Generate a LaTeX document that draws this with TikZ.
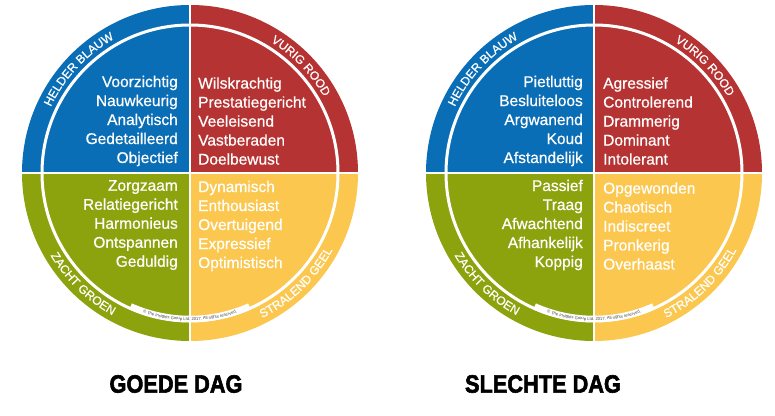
\documentclass[tikz,border=0pt]{standalone}
\usepackage{fontspec}
\setmainfont{Liberation Sans}
\newfontfamily\wielfont[FakeBold=0.6]{Liberation Sans}
\newfontfamily\titelfont[FakeBold=2.5]{Liberation Sans}
\usetikzlibrary{decorations.text}
\definecolor{blauw}{RGB}{10,110,183}
\definecolor{rood}{RGB}{181,51,50}
\definecolor{groen}{RGB}{140,163,14}
\definecolor{geel}{RGB}{251,199,79}
\definecolor{copygrijs}{RGB}{70,70,70}

\begin{document}
\begin{tikzpicture}[x=1pt,y=1pt,
    kwart/.style={font=\wielfont\fontsize{15.5}{19}\selectfont, text=white, inner sep=0pt},
    ringtekst/.style={decorate, decoration={text along path, text align=center,
        text={|\wielfont\fontsize{12}{12}\selectfont\color{white}|#1}}},
    copytekst/.style={decorate, decoration={text along path, text align=center,
        text={|\fontsize{4.2}{4.2}\selectfont\color{copygrijs}|© The Insights Group Ltd. 2017. All rights reserved.}}},
    titel/.style={font=\titelfont\fontsize{25}{25}\selectfont\bfseries, inner sep=0pt}]
    \useasboundingbox (0,0) rectangle (775,415);

    % Goede dag
    \begin{scope}[shift={(190,242)}]
        \coordinate (gm) at (0,0);
        \foreach \kleur/\a in {rood/0, blauw/90, groen/180, geel/270}
            \fill[\kleur] (gm) -- ++(\a:168) arc (\a:\a+90:168) -- cycle;
        \draw[white, line width=3] (gm) circle[radius=148];
        \draw[white, line width=6.5] (gm) ++(246:146) arc (246:294:146);
        \draw[white, line width=2] (gm) ++(0,170) -- ++(0,-340);
        \draw[white, line width=2] (gm) ++(-170,0) -- ++(340,0);
        \path[ringtekst={HELDER BLAUW}] (gm) ++(182:154) arc (182:92:154);
        \path[ringtekst={VURIG ROOD}] (gm) ++(89:154) arc (89:-1:154);
        \path[ringtekst={ZACHT GROEN}] (gm) ++(181:162) arc (181:271:162);
        \path[ringtekst={STRALEND GEEL}] (gm) ++(269:162) arc (269:359:162);
        \path[copytekst] (gm) ++(240:147.5) arc (240:300:147.5);
        \node[kwart, anchor=east, align=right] (gblauw) at (-12,52)
            {Voorzichtig\\Nauwkeurig\\Analytisch\\Gedetailleerd\\Objectief};
        \node[kwart, anchor=west, align=left] (grood) at (8,52)
            {Wilskrachtig\\Prestatiegericht\\Veeleisend\\Vastberaden\\Doelbewust};
        \node[kwart, anchor=east, align=right] (ggroen) at (-12,-52)
            {Zorgzaam\\Relatiegericht\\Harmonieus\\Ontspannen\\Geduldig};
        \node[kwart, anchor=west, align=left] (ggeel) at (8,-53)
            {Dynamisch\\Enthousiast\\Overtuigend\\Expressief\\Optimistisch};
    \end{scope}

    % Slechte dag
    \begin{scope}[shift={(594,242)}]
        \coordinate (sm) at (0,0);
        \foreach \kleur/\a in {rood/0, blauw/90, groen/180, geel/270}
            \fill[\kleur] (sm) -- ++(\a:168) arc (\a:\a+90:168) -- cycle;
        \draw[white, line width=3] (sm) circle[radius=148];
        \draw[white, line width=6.5] (sm) ++(246:146) arc (246:294:146);
        \draw[white, line width=2] (sm) ++(0,170) -- ++(0,-340);
        \draw[white, line width=2] (sm) ++(-170,0) -- ++(340,0);
        \path[ringtekst={HELDER BLAUW}] (sm) ++(182:154) arc (182:92:154);
        \path[ringtekst={VURIG ROOD}] (sm) ++(89:154) arc (89:-1:154);
        \path[ringtekst={ZACHT GROEN}] (sm) ++(181:162) arc (181:271:162);
        \path[ringtekst={STRALEND GEEL}] (sm) ++(269:162) arc (269:359:162);
        \path[copytekst] (sm) ++(240:147.5) arc (240:300:147.5);
        \node[kwart, anchor=east, align=right] (sblauw) at (-11,52)
            {Pietluttig\\Besluiteloos\\Argwanend\\Koud\\Afstandelijk};
        \node[kwart, anchor=west, align=left] (srood) at (9,52)
            {Agressief\\Controlerend\\Drammerig\\Dominant\\Intolerant};
        \node[kwart, anchor=east, align=right] (sgroen) at (-11,-52)
            {Passief\\Traag\\Afwachtend\\Afhankelijk\\Koppig};
        \node[kwart, anchor=west, align=left] (sgeel) at (9,-53)
            {Opgewonden\\Chaotisch\\Indiscreet\\Pronkerig\\Overhaast};
    \end{scope}

    \node[titel] (goede) at (176,31) {\scalebox{0.87}[1]{GOEDE DAG}};
    \node[titel] (slechte) at (543,31) {\scalebox{0.87}[1]{SLECHTE DAG}};
\end{tikzpicture}
\end{document}
